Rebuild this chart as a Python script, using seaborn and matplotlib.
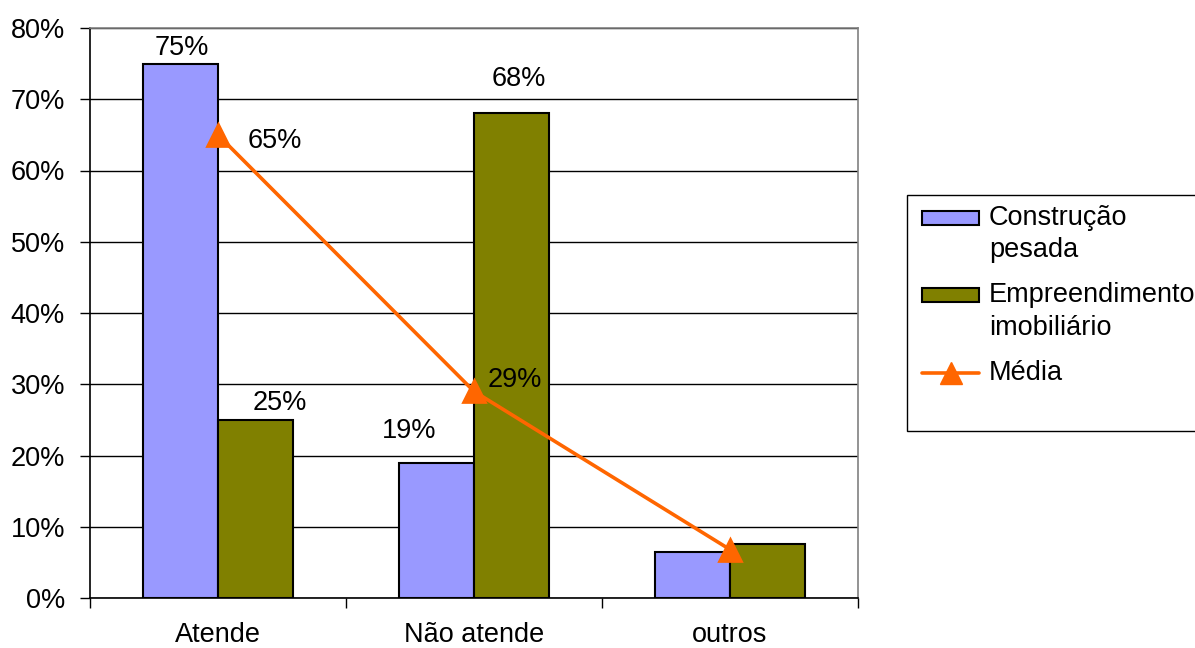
import matplotlib
matplotlib.use("Agg")
import matplotlib.pyplot as plt
from matplotlib.patches import Rectangle
from matplotlib.lines import Line2D
from matplotlib.ticker import FixedLocator, PercentFormatter
import seaborn as sns
import pandas as pd

# ---- data -------------------------------------------------------------
categories = ["Atende", "Não atende", "outros"]
series_names = ["Construção pesada", "Empreendimento imobiliário"]
construcao_pesada = [0.75, 0.19, 0.065]
empreendimento_imobiliario = [0.25, 0.68, 0.076]
media = [0.65, 0.29, 0.068]
media_name = "Média"
legend_lines = [["Construção", "pesada"], ["Empreendimento", "imobiliário"], ["Média"]]
y_ticks = [0.0, 0.1, 0.2, 0.3, 0.4, 0.5, 0.6, 0.7, 0.8]

# ---- style ------------------------------------------------------------
sns.set_theme(style="white")
plt.rcParams["font.family"] = ["Liberation Sans", "DejaVu Sans"]
FONT = 19.5
BLUE = "#9999FF"
OLIVE = "#808000"
ORANGE = "#FF6600"
W, H = 1195, 648
BAR_WIDTH = 0.584
LINE_W = 2.6

df = pd.DataFrame({
    "categoria": categories * 2,
    "serie": [series_names[0]] * len(categories) + [series_names[1]] * len(categories),
    "valor": construcao_pesada + empreendimento_imobiliario,
})

fig = plt.figure(figsize=(W / 100, H / 100), dpi=100)
ax = fig.add_axes([90 / W, 1 - 598 / H, 768 / W, 570 / H])

sns.barplot(data=df, x="categoria", y="valor", hue="serie", order=categories,
            hue_order=series_names, palette=[BLUE, OLIVE], width=BAR_WIDTH, gap=0,
            saturation=1, edgecolor="black", linewidth=1.5, errorbar=None,
            legend=False, ax=ax, zorder=2)

sns.pointplot(x=categories, y=media, order=categories, color=ORANGE, markers="^",
              markersize=15.5, linewidth=LINE_W, errorbar=None, ax=ax)
for ln in ax.lines:
    ln.set_zorder(4)
for coll in ax.collections:
    coll.set_zorder(4)

# ---- axes -------------------------------------------------------------
ax.set_xlim(-0.5, len(categories) - 0.5)
ax.set_ylim(0, 0.8)
ax.set_xlabel("")
ax.set_ylabel("")
ax.yaxis.set_major_locator(FixedLocator(y_ticks))
ax.yaxis.set_major_formatter(PercentFormatter(1.0, decimals=0))
ax.grid(axis="y", color="black", linewidth=1.0)
ax.grid(axis="x", visible=False)
ax.set_axisbelow(True)

for side in ("left", "bottom"):
    ax.spines[side].set_color("black")
    ax.spines[side].set_linewidth(1.2)
for side in ("top", "right"):
    ax.spines[side].set_color("#808080")
    ax.spines[side].set_linewidth(1.2)

ax.set_xticks(range(len(categories)), categories)
ax.set_xticks([i - 0.5 for i in range(len(categories) + 1)], minor=True)
ax.tick_params(axis="x", which="major", length=0, pad=17, labelsize=FONT, colors="black")
ax.tick_params(axis="x", which="minor", bottom=True, length=7, width=1, color="black",
               direction="out")
ax.tick_params(axis="y", left=True, length=7, width=1, color="black", direction="out",
               pad=11, labelsize=FONT, labelcolor="black")

# ---- value labels -----------------------------------------------------
off = BAR_WIDTH / 4
label_offsets_blue = [(1, 9), (-27, 25)]
label_offsets_olive = [(24, 10), (7, 27)]
label_offsets_media = [(57, -13), (41, 4)]

for i, (v, d) in enumerate(zip(construcao_pesada, label_offsets_blue)):
    ax.annotate(f"{v:.0%}", xy=(i - off, v), xytext=d, textcoords="offset pixels",
                ha="center", va="baseline", fontsize=FONT, color="black", zorder=5)
for i, (v, d) in enumerate(zip(empreendimento_imobiliario, label_offsets_olive)):
    ax.annotate(f"{v:.0%}", xy=(i + off, v), xytext=d, textcoords="offset pixels",
                ha="center", va="baseline", fontsize=FONT, color="black", zorder=5)
for i, (v, d) in enumerate(zip(media, label_offsets_media)):
    ax.annotate(f"{v:.0%}", xy=(i, v), xytext=d, textcoords="offset pixels",
                ha="center", va="baseline", fontsize=FONT, color="black", zorder=5)


# ---- legend box -------------------------------------------------------
def fx(px):
    return px / W


def fy(py):
    return 1 - py / H


fig.add_artist(Rectangle((fx(907), fy(431)), fx(1210) - fx(907), fy(195) - fy(431),
                         transform=fig.transFigure, facecolor="white",
                         edgecolor="black", linewidth=1.0))

handle_x0, handle_x1 = 922, 979
fig.add_artist(Rectangle((fx(handle_x0), fy(225)), fx(handle_x1) - fx(handle_x0),
                         fy(211) - fy(225), transform=fig.transFigure,
                         facecolor=BLUE, edgecolor="black", linewidth=1.5))
fig.add_artist(Rectangle((fx(handle_x0), fy(302)), fx(handle_x1) - fx(handle_x0),
                         fy(288) - fy(302), transform=fig.transFigure,
                         facecolor=OLIVE, edgecolor="black", linewidth=1.5))
fig.add_artist(Line2D([fx(handle_x0), fx(handle_x1)], [fy(373), fy(373)],
                      transform=fig.transFigure, color=ORANGE, linewidth=LINE_W))
fig.add_artist(Line2D([fx((handle_x0 + handle_x1) / 2)], [fy(373)],
                      transform=fig.transFigure, color=ORANGE, marker="^",
                      markersize=15.5, linestyle="none"))

baselines = [[225, 257], [302, 335], [380]]
for lines, bls in zip(legend_lines, baselines):
    for txt, bl in zip(lines, bls):
        fig.text(fx(989), fy(bl), txt, ha="left", va="baseline", fontsize=FONT,
                 color="black")

fig.savefig("out.png", dpi=100)
